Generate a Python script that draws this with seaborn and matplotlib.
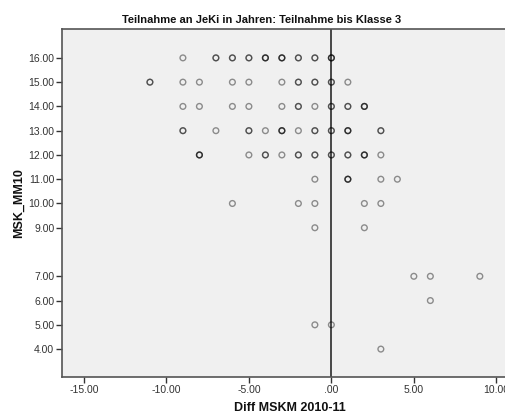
import numpy as np
import pandas as pd
import matplotlib
matplotlib.use("Agg")
import matplotlib.pyplot as plt
import seaborn as sns

# ---- data ----
row_y = [16, 15, 14, 13, 12, 11, 10, 9, 7, 6, 5, 4]
row_x = [
    [-9, -7, -6, -5, -4, -3, -2, -1, 0],
    [-11, -9, -8, -6, -5, -3, -2, -1, 0, 1],
    [-9, -8, -6, -5, -3, -2, -1, 0, 1, 2],
    [-9, -7, -5, -4, -3, -2, -1, 0, 1, 3],
    [-8, -5, -4, -3, -2, -1, 0, 1, 2, 3],
    [-1, 1, 3, 4],
    [-6, -2, -1, 2, 3],
    [-1, 2],
    [5, 6, 9],
    [6],
    [-1, 0],
    [3],
]
# number of overlapping cases per plotted position (darker circles = more cases)
row_n = [
    [1, 2, 2, 2, 3, 3, 2, 2, 3],
    [2, 1, 1, 1, 1, 1, 2, 2, 2, 1],
    [1, 1, 1, 1, 1, 2, 1, 2, 2, 3],
    [2, 1, 2, 1, 3, 1, 2, 2, 3, 2],
    [3, 1, 2, 1, 2, 2, 2, 2, 3, 1],
    [1, 3, 1, 1],
    [1, 1, 1, 1, 1],
    [1, 1],
    [1, 1, 1],
    [1],
    [1, 1],
    [1],
]
y_ticks = [16, 15, 14, 13, 12, 11, 10, 9, 7, 6, 5, 4]
x_ticks = [-15, -10, -5, 0, 5, 10]
title = "Teilnahme an JeKi in Jahren: Teilnahme bis Klasse 3"
x_label = "Diff MSKM 2010-11"
y_label = "MSK_MM10"

xs, ys = [], []
for yv, xr, nr in zip(row_y, row_x, row_n):
    for xv, n in zip(xr, nr):
        xs.extend([xv] * n)
        ys.extend([yv] * n)
df = pd.DataFrame({"diff": xs, "msk": ys})


def spss_fmt(v):
    return ".00" if v == 0 else "%.2f" % v


sns.set_style("white")
plt.rcParams["font.family"] = ["Liberation Sans", "DejaVu Sans"]

W, H = 506, 415
fig = plt.figure(figsize=(W / 100, H / 100), dpi=100)
ax = fig.add_axes([62 / W, 1 - 377 / H, (W - 62) / W + 0.02, (377 - 29) / H])
ax.set_facecolor("#f0f0f0")

ax.axvline(0, color="#3a3a3a", lw=1.3, zorder=1)
sns.scatterplot(data=df, x="diff", y="msk", ax=ax, marker="o", s=17,
                facecolor="none", edgecolor=(0, 0, 0, 0.42), linewidth=1.0,
                zorder=3, legend=False)

ax.set_xlim(-16.33, 11.2)
ax.set_ylim(2.85, 17.19)
ax.set_xticks(x_ticks)
ax.set_xticklabels([spss_fmt(v) for v in x_ticks])
ax.set_yticks(y_ticks)
ax.set_yticklabels([spss_fmt(v) for v in y_ticks])
ax.tick_params(axis="both", direction="out", length=4, width=1, color="#333333",
               labelsize=7.5, labelcolor="#333333", pad=1.5,
               left=True, bottom=True)
for side in ["left", "bottom", "top"]:
    ax.spines[side].set_color("#555555")
    ax.spines[side].set_linewidth(1.2)
ax.spines["right"].set_visible(False)
ax.set_xlabel("")
ax.set_ylabel("")

fig.text(262 / W, 1 - 20 / H, title, ha="center", va="center",
         fontsize=8, fontweight="bold", color="#111111")
fig.text(290 / W, 1 - 408 / H, x_label, ha="center", va="center",
         fontsize=9, fontweight="bold", color="#111111")
fig.text(19 / W, 1 - 203 / H, y_label, ha="center", va="center",
         rotation=90, fontsize=9, fontweight="bold", color="#111111")

fig.savefig("out.png", dpi=100, facecolor="white")
